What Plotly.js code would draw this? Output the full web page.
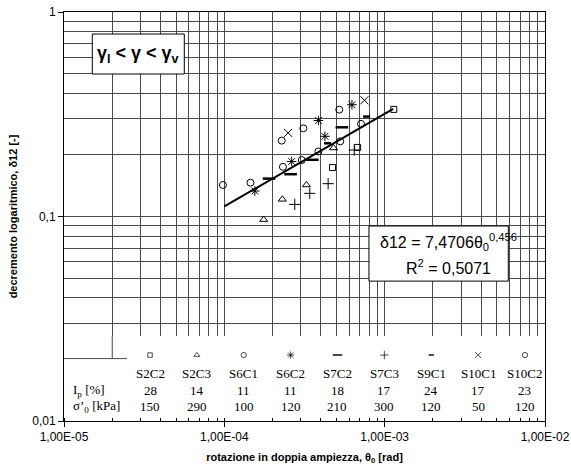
<!DOCTYPE html>
<html><head><meta charset="utf-8">
<script src="https://cdn.plot.ly/plotly-3.0.1.min.js"></script>
<style>html,body{margin:0;padding:0;background:#fff}</style>
</head><body><div id="chart" style="width:571px;height:473px"></div>
<script>
// ---- data ----
const seriesNames = ["S2C2","S2C3","S6C1","S6C2","S7C2","S7C3","S9C1","S10C1","S10C2"];
const ipValues    = [28, 14, 11, 11, 18, 17, 24, 17, 23];
const sigmaValues = [150, 290, 100, 120, 210, 300, 120, 50, 120];

const s2c2X  = [4.73e-4, 6.78e-4, 1.14e-3];
const s2c2Y  = [0.1735, 0.2177, 0.334];
const s2c3X  = [1.76e-4, 2.30e-4, 3.25e-4, 4.80e-4];
const s2c3Y  = [0.0966, 0.1213, 0.1426, 0.2163];
const s6c1X  = [9.8e-5, 1.456e-4, 2.32e-4, 3.04e-4, 3.86e-4, 5.28e-4, 7.12e-4];
const s6c1Y  = [0.1426, 0.1464, 0.1749, 0.1888, 0.208, 0.233, 0.284];
const s6c2X  = [1.55e-4, 2.63e-4, 3.86e-4, 4.24e-4, 6.25e-4];
const s6c2Y  = [0.1332, 0.1858, 0.2947, 0.2467, 0.352];
const s7c2X  = [1.90e-4, 2.59e-4, 3.54e-4, 5.41e-4];
const s7c2Y  = [0.1532, 0.161, 0.1894, 0.273];
const s7c3X  = [2.75e-4, 3.41e-4, 4.44e-4, 6.46e-4];
const s7c3Y  = [0.1146, 0.1298, 0.1447, 0.2114];
const s9c1X  = [4.40e-4, 7.72e-4];
const s9c1Y  = [0.228, 0.308];
const s10c1X = [2.50e-4, 7.47e-4];
const s10c1Y = [0.2563, 0.370];
const s10c2X = [2.28e-4, 3.11e-4, 5.21e-4];
const s10c2Y = [0.235, 0.270, 0.333];

const trendX = [1.0e-4, 1.13e-3];
const trendY = [0.112, 0.336];

const xTickVals = [1e-5, 1e-4, 1e-3, 1e-2];
const xTickText = ["1,00E-05", "1,00E-04", "1,00E-03", "1,00E-02"];
const yTickVals = [0.01, 0.1, 1];
const yTickText = ["0,01", "0,1", "1"];

// gridline positions (1..9 in each decade)
function logGrid(decades) {
  const out = [];
  for (let d = 0; d < decades.length - 1; d++)
    for (let k = 1; k <= 9; k++) out.push(k * decades[d]);
  out.push(decades[decades.length - 1]);
  return out;
}
const xGrid = logGrid(xTickVals);
const yGrid = logGrid(yTickVals);

// ---- layout geometry ----
const tableTop = 0.2078;              // paper fraction where the data table begins
const yFull = [-2, 0];                // full log range of the labelled y axis
const yGridRange = [yFull[0] + (yFull[1] - yFull[0]) * tableTop, yFull[1]];

// ---- styles ----
const seriesX = [s2c2X, s2c3X, s6c1X, s6c2X, s7c2X, s7c3X, s9c1X, s10c1X, s10c2X];
const seriesY = [s2c2Y, s2c3Y, s6c1Y, s6c2Y, s7c2Y, s7c3Y, s9c1Y, s10c1Y, s10c2Y];
const symbols = ['square-open','triangle-up-open','circle-open','asterisk-open','line-ew-open','cross-thin-open','line-ew-open','x-thin-open','circle-open'];
const sizes   = [6, 7, 7, 8, 9, 8, 5, 8, 7];
const lws     = [1, 1, 1, 1, 2.5, 1, 2.5, 1, 1];

const traces = seriesNames.map((n, i) => ({
  type: 'scatter', mode: 'markers', name: n,
  x: seriesX[i], y: seriesY[i],
  marker: {symbol: symbols[i], size: sizes[i], color: '#000', line: {color: '#000', width: lws[i]}},
  hoverinfo: 'x+y+name', cliponaxis: false
}));
traces.push({
  type: 'scatter', mode: 'lines', name: 'fit', x: trendX, y: trendY,
  line: {color: '#000', width: 2}
});
// legend table markers
traces.push({
  type: 'scatter', mode: 'markers', xaxis: 'x2', yaxis: 'y2',
  x: seriesNames, y: seriesNames.map(() => 0.776),
  marker: {symbol: symbols, size: sizes.map(s => s * 0.75), color: '#000',
           line: {color: '#000', width: lws.map(w => Math.min(w, 2))}},
  hoverinfo: 'skip'
});
// empty trace for the labelled frame axes
traces.push({type: 'scatter', mode: 'markers', x: [], y: [], xaxis: 'x3', yaxis: 'y3', hoverinfo: 'skip'});

const gridC = '#4a4a4a';
const sans = 'Liberation Sans, Arial, sans-serif';
const tickFont = {family: sans, size: 12, color: '#000'};
const serif = {family: 'Liberation Serif, Times New Roman, serif', size: 13, color: '#000'};

const annotations = [];
seriesNames.forEach((n, i) => {
  annotations.push({xref: 'x2', yref: 'y2', x: n, y: 0.553, text: n, showarrow: false, font: serif, xanchor: 'center', yanchor: 'middle'});
  annotations.push({xref: 'x2', yref: 'y2', x: n, y: 0.353, text: String(ipValues[i]), showarrow: false, font: serif, xanchor: 'center', yanchor: 'middle'});
  annotations.push({xref: 'x2', yref: 'y2', x: n, y: 0.176, text: String(sigmaValues[i]), showarrow: false, font: serif, xanchor: 'center', yanchor: 'middle'});
});
annotations.push({xref: 'paper', yref: 'paper', x: 0.014, y: 0.075, xanchor: 'left', yanchor: 'middle', text: 'I<sub>p</sub> [%]', showarrow: false, font: serif});
annotations.push({xref: 'paper', yref: 'paper', x: 0.014, y: 0.036, xanchor: 'left', yanchor: 'middle', text: 'σ’<sub>0</sub> [kPa]', showarrow: false, font: serif});
// gamma box text
annotations.push({xref: 'paper', yref: 'paper', x: 0.1545, y: 0.8973, xanchor: 'center', yanchor: 'middle',
  text: '<b>γ<sub>l</sub> &lt; γ &lt; γ<sub>v</sub></b>', showarrow: false,
  font: {family: sans, size: 18, color: '#000'}});
// equation box text
annotations.push({xref: 'paper', yref: 'paper', x: 0.7998, y: 0.437, xanchor: 'center', yanchor: 'middle',
  text: 'δ12 = 7,4706θ<sub>0</sub><sup>0,456</sup>', showarrow: false,
  font: {family: sans, size: 16, color: '#000'}});
annotations.push({xref: 'paper', yref: 'paper', x: 0.7998, y: 0.376, xanchor: 'center', yanchor: 'middle',
  text: 'R<sup>2</sup> = 0,5071', showarrow: false,
  font: {family: sans, size: 16, color: '#000'}});

const shapes = [
  // top-left cell lines of the data table
  {type: 'line', xref: 'paper', yref: 'paper', layer: 'below',
   x0: 0, x1: 0.131, y0: 0.1526, y1: 0.1526, line: {color: gridC, width: 1}},
  {type: 'line', xref: 'paper', yref: 'paper', layer: 'below',
   x0: 0.1003, x1: 0.1003, y0: 0.1526, y1: tableTop, line: {color: gridC, width: 1}},
  // text boxes
  {type: 'rect', xref: 'paper', yref: 'paper', layer: 'above',
   x0: 0.0588, x1: 0.2501, y0: 0.8484, y1: 0.9462, fillcolor: '#fff', line: {color: '#000', width: 1}},
  {type: 'rect', xref: 'paper', yref: 'paper', layer: 'above',
   x0: 0.634, x1: 0.9237, y0: 0.342, y1: 0.4768, fillcolor: '#fff', line: {color: '#000', width: 1}}
];

const layout = {
  width: 571, height: 473,
  margin: {l: 64, r: 26, t: 12, b: 52},
  paper_bgcolor: '#fff', plot_bgcolor: 'rgba(0,0,0,0)',
  showlegend: false,
  // gridded axes (grid stops above the data table)
  xaxis: {
    type: 'log', range: [-5, -2], domain: [0, 1], anchor: 'y',
    tickvals: xGrid, showticklabels: false, ticks: '',
    showgrid: true, gridcolor: gridC, gridwidth: 1,
    showline: false, zeroline: false
  },
  yaxis: {
    type: 'log', range: yGridRange, domain: [tableTop, 1], anchor: 'x',
    tickvals: yGrid, showticklabels: false, ticks: '',
    showgrid: true, gridcolor: gridC, gridwidth: 1,
    showline: false, zeroline: false
  },
  // labelled frame axes (full height)
  xaxis3: {
    type: 'log', range: [-5, -2], domain: [0, 1], anchor: 'y3',
    tickvals: xTickVals, ticktext: xTickText, tickfont: tickFont,
    ticks: 'outside', ticklen: 5, tickcolor: '#000',
    minor: {dtick: 'D1', ticks: 'inside', ticklen: 3, tickcolor: '#000', showgrid: false},
    showgrid: false, showline: true, linecolor: '#000', linewidth: 1, mirror: true, zeroline: false,
    title: {text: '<b>rotazione in doppia ampiezza, θ<sub>0</sub> [rad]</b>', standoff: 9,
            font: {family: sans, size: 11, color: '#000'}}
  },
  yaxis3: {
    type: 'log', range: yFull, domain: [0, 1], anchor: 'x3',
    tickvals: yTickVals, ticktext: yTickText, tickfont: tickFont,
    ticks: 'outside', ticklen: 5, tickcolor: '#000',
    showgrid: false, showline: true, linecolor: '#000', linewidth: 1, mirror: true, zeroline: false,
    title: {text: '<b>decremento logaritmico, δ12 [-]</b>', standoff: 12,
            font: {family: sans, size: 11, color: '#000'}}
  },
  xaxis2: {type: 'category', categoryarray: seriesNames, categoryorder: 'array',
           range: [-0.5, 8.427], domain: [0.1301, 1], anchor: 'y2', visible: false, showgrid: false},
  yaxis2: {range: [0, 1], domain: [0, tableTop], anchor: 'x2', visible: false, showgrid: false},
  shapes: shapes,
  annotations: annotations
};

Plotly.newPlot('chart', traces, layout, {displayModeBar: false, staticPlot: true});
</script>
</body></html>
